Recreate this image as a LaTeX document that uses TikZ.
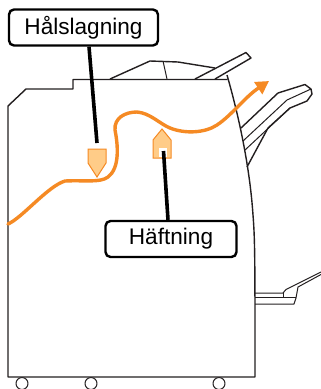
\documentclass[tikz,border=0pt]{standalone}
\usepackage{fontspec}
\setmainfont{Liberation Sans}
\usetikzlibrary{arrows.meta}
\definecolor{flow}{HTML}{F58A24}
\definecolor{markfill}{HTML}{FFCC88}
\definecolor{ink}{HTML}{231F20}
\tikzset{
 outline/.style={draw=ink,line width=1.4pt,line join=round},
 thin outline/.style={draw=ink,line width=1pt,line join=round},
 callout/.style={draw=black,line width=2.4pt,rounded corners=5pt,fill=white,font=\fontsize{22.6}{25}\selectfont,inner sep=0pt,minimum height=36pt,text=black},
 leader/.style={draw=black,line width=3.6pt},
 marker/.style={fill=markfill,draw=flow,line width=1pt,line join=miter},
}
\begin{document}
\begin{tikzpicture}[x=1pt,y=-1pt]
\useasboundingbox (0,0) rectangle (321,389);
% wheels
\foreach \c in {22,91,219}{\draw[thin outline,fill=white] (\c,383.5) circle (6);}
% cabinet
\draw[outline,fill=white] (227,75) .. controls (240,120) and (250,170) .. (253,215) .. controls (255,240) and (255,260) .. (255,377) -- (8,377) -- (8,106) -- (26,89) -- (73,89) -- (73,79.5) -- (227,79.5);
% top tray
\draw[outline] (110,79) -- (150,61) -- (178,62) -- (215,68);
\draw[thin outline] (163,61) -- (167,79);
\draw[outline] (195,79) -- (246,52.5) -- (251,58) -- (215,79);
% right tray
\draw[outline] (241,128) -- (278,93) -- (305,84.5) -- (311,89) -- (312,94) -- (307,101) -- (290,108) -- (268,128) -- (247,167);
\draw[thin outline] (243,141) -- (287,100) -- (311,89);
\draw[thin outline] (245,150) -- (290,108);
% bottom tray
\draw[thin outline] (255,293) -- (283,293) -- (286,289.5) -- (321,272);
\draw[thin outline] (321,274.5) -- (298,287) -- (296,298) -- (294,304) -- (255,304);
\draw[thin outline] (255,297.5) -- (296,297.5);
\draw[thin outline] (283,293) -- (283,297.5);
% flow
\draw[flow,line width=3.4pt,line cap=round,-{Triangle[length=13pt,width=14pt]}]
  (8,224) .. controls (22,218) and (48,186) .. (65,181)
  .. controls (85,180) and (100,183) .. (108,177)
  .. controls (120,168) and (118,145) .. (115,130)
  .. controls (114,118) and (125,112) .. (137,112)
  .. controls (150,113) and (160,124) .. (170,128)
  .. controls (185,134) and (205,133) .. (217,125)
  .. controls (232,115) and (245,97) .. (269,81);
% markers
\draw[marker] (88,149) -- (106,149) -- (106,163) -- (97,177) -- (88,163) -- cycle;
\draw[marker] (162,129) -- (171,140) -- (171,158) -- (153,158) -- (153,140) -- cycle;
\fill[white] (158.5,148) rectangle (167,157);
% callouts
\coordinate (holeend) at (97,143);
\coordinate (stapleend) at (163.5,151);
\node[callout,minimum width=149pt] (hole) at (83.5,27.5) {Hålslagning};
\node[callout,minimum width=131pt] (staple) at (171,239) {Häftning};
\draw[leader] (hole.south -| 89,46) -- (holeend);
\draw[leader] (staple.north -| 168,220) -- (stapleend);
\end{tikzpicture}
\end{document}
